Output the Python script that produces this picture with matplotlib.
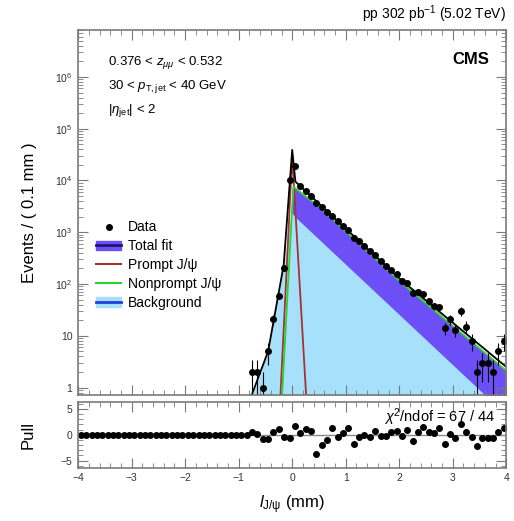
import numpy as np
import matplotlib
matplotlib.use("Agg")
import matplotlib.pyplot as plt
from matplotlib.patches import Patch
from matplotlib.lines import Line2D

plt.rcParams["font.family"] = ["Liberation Sans", "DejaVu Sans"]
plt.rcParams["mathtext.fontset"] = "custom"
plt.rcParams["mathtext.rm"] = "Liberation Sans"
plt.rcParams["mathtext.it"] = "Liberation Sans:italic"
plt.rcParams["mathtext.bf"] = "Liberation Sans:bold"

# Data points (bins of 0.1 mm, only bins with entries)
data_x = np.round(np.arange(-0.75, 4.0, 0.1), 2)
data_n = [2, 2, 1, 5, 21, 59, 205, 10000, 19000,
          7830, 6290, 5030, 3730, 3060, 2485, 2100, 1614, 1321, 1092,
          791, 665, 538, 426, 363, 274, 218, 186, 154, 114,
          104, 67, 69, 63, 47, 37, 36, 14, 21, 13,
          30, 15, 8, 2, 3, 3, 2, 5, 8]

# Fit components (nodes)
total_x = [-0.76, -0.45, -0.16, 0.0, 0.06, 0.52, 2.02, 4.0]
total_y = [0.7, 5, 230, 39000, 9500, 3400, 123, 2.5]
nonprompt_x = [-0.19, 0.02, 0.52, 2.02, 4.0]
nonprompt_y = [0.7, 7600, 3000, 110, 2.1]
bkg_x = [-0.77, -0.45, -0.16, -0.02, 0.05, 3.57, 4.0]
bkg_y = [0.6, 5, 230, 2500, 2000, 0.77, 0.3]
prompt_x = [-0.22, 0.0, 0.26]
prompt_y = [0.7, 30000, 0.7]

# Pulls for all 80 bins
pull_x = np.round(np.arange(-3.95, 4.0, 0.1), 2)
pull_v = [0.0] * 32 + [
    0.6, 0.2, -0.8, -0.8, 0.5, 1.1, -0.4, -0.7, 1.7, 0.3,
    1.1, 0.8, -3.8, -1.9, -1.1, 1.3, -0.4, 0.3, 1.3, -1.7,
    -0.4, -0.1, -0.4, 0.8, -0.3, -0.3, 0.5, 0.8, -0.2, 0.9,
    -1.2, 0.6, 1.5, 0.6, 0.3, 1.3, -1.8, 0.2, -0.6, 2.0,
    0.6, -0.5, -2.1, -0.7, -0.7, -0.6, 0.6, 1.3]

ymin, ymax = 0.72, 8e6
purple = "#6c4ff6"
lightblue = "#a6e0fa"
red = "#a83232"
green = "#2ed12e"
frame = "#7a7a7a"


def curve(xn, yn, grid):
    return 10 ** np.interp(grid, xn, np.log10(yn), left=-3, right=-3)


grid = np.linspace(-4, 4, 1601)
fig = plt.figure(figsize=(5.14, 5.21), dpi=100)
ax = fig.add_axes([0.152, 0.242, 0.833, 0.700])
axp = fig.add_axes([0.152, 0.102, 0.833, 0.127])

# stacked fills
ax.fill_between(grid, ymin * 0.5, curve(nonprompt_x, nonprompt_y, grid),
                color=purple, lw=0)
ax.fill_between(grid, ymin * 0.5, curve(bkg_x, bkg_y, grid),
                color=lightblue, lw=0)
ax.plot(grid, curve(prompt_x, prompt_y, grid), color=red, lw=1.3)
ax.plot(grid, curve(nonprompt_x, nonprompt_y, grid), color=green, lw=1.3)
ax.plot(grid, curve(total_x, total_y, grid), color="black", lw=1.3)

n = np.array(data_n, dtype=float)
err = np.sqrt(n)
lo = np.where(n - err > 0, err, n - 0.3)
ax.errorbar(data_x, n, yerr=[lo, err], fmt="o", color="black", ms=4,
            elinewidth=0.8, capsize=0)

ax.set_yscale("log")
ax.set_xlim(-4, 4)
ax.set_ylim(ymin, ymax)
ax.set_yticks([1, 10, 1e2, 1e3, 1e4, 1e5, 1e6])
ax.set_yticklabels(["1", "10", "$10^{2}$", "$10^{3}$", "$10^{4}$",
                    "$10^{5}$", "$10^{6}$"])
ax.yaxis.set_minor_locator(matplotlib.ticker.LogLocator(subs=np.arange(2, 10)))
ax.yaxis.set_minor_formatter(matplotlib.ticker.NullFormatter())
ax.set_xticks(np.arange(-4, 5, 1))
ax.set_xticks(np.arange(-4, 4.01, 0.2), minor=True)
ax.set_xticklabels([])
ax.set_ylabel("Events / ( 0.1 mm )", fontsize=12, labelpad=13)

# pull panel
axp.axhline(0, color="#888888", lw=1)
axp.plot(pull_x, pull_v, "o", color="black", ms=4)
axp.set_xlim(-4, 4)
axp.set_ylim(-6.4, 6.4)
axp.set_yticks([-5, 0, 5])
axp.set_yticks(np.arange(-6, 7, 1), minor=True)
axp.set_xticks(np.arange(-4, 5, 1))
axp.set_xticks(np.arange(-4, 4.01, 0.2), minor=True)
axp.set_ylabel("Pull", fontsize=12, labelpad=18)
axp.set_xlabel(r"$\mathit{l}_{\mathrm{J/\psi}}$ (mm)", fontsize=12, labelpad=7)
axp.text(0.975, 0.93, r"$\chi^{2}$/ndof = 67 / 44", transform=axp.transAxes,
         ha="right", va="top", fontsize=10.5)

for a in (ax, axp):
    a.tick_params(which="both", direction="in", top=True, right=True,
                  labelsize=7.5, colors="#333333", pad=4)
    a.tick_params(which="major", length=7, color=frame)
    a.tick_params(which="minor", length=3.5, color=frame)
    for s in a.spines.values():
        s.set_color(frame)
        s.set_linewidth(1.2)

# annotations
ax.text(0.07, 0.905, r"0.376 < $z_{\mu\mu}$ < 0.532", transform=ax.transAxes,
        fontsize=9.5)
ax.text(0.07, 0.838, r"30 < $p_{\mathrm{T,jet}}$ < 40 GeV", transform=ax.transAxes,
        fontsize=9.5)
ax.text(0.07, 0.772, r"|$\eta_{\mathrm{jet}}$| < 2", transform=ax.transAxes,
        fontsize=9.5)
ax.text(0.96, 0.92, "CMS", transform=ax.transAxes, ha="right", va="center",
        fontsize=12, fontweight="bold")
fig.text(0.985, 0.972, r"pp 302 pb$^{-1}$ (5.02 TeV)", ha="right",
         va="center", fontsize=10)

handles = [
    Line2D([], [], marker="o", color="black", ms=4, lw=0),
    (Patch(color=purple), Line2D([], [], color="#1a1a6e", lw=2)),
    Line2D([], [], color=red, lw=1.5),
    Line2D([], [], color=green, lw=1.5),
    (Patch(color=lightblue), Line2D([], [], color="#2040e0", lw=2)),
]
labels = ["Data", "Total fit", "Prompt J/\u03c8", "Nonprompt J/\u03c8", "Background"]
ax.legend(handles, labels, loc="upper left", bbox_to_anchor=(0.02, 0.505),
          frameon=False, fontsize=10, handlelength=1.8, handletextpad=0.5,
          labelspacing=0.35, borderpad=0.2)

fig.savefig("out.png", dpi=100)
